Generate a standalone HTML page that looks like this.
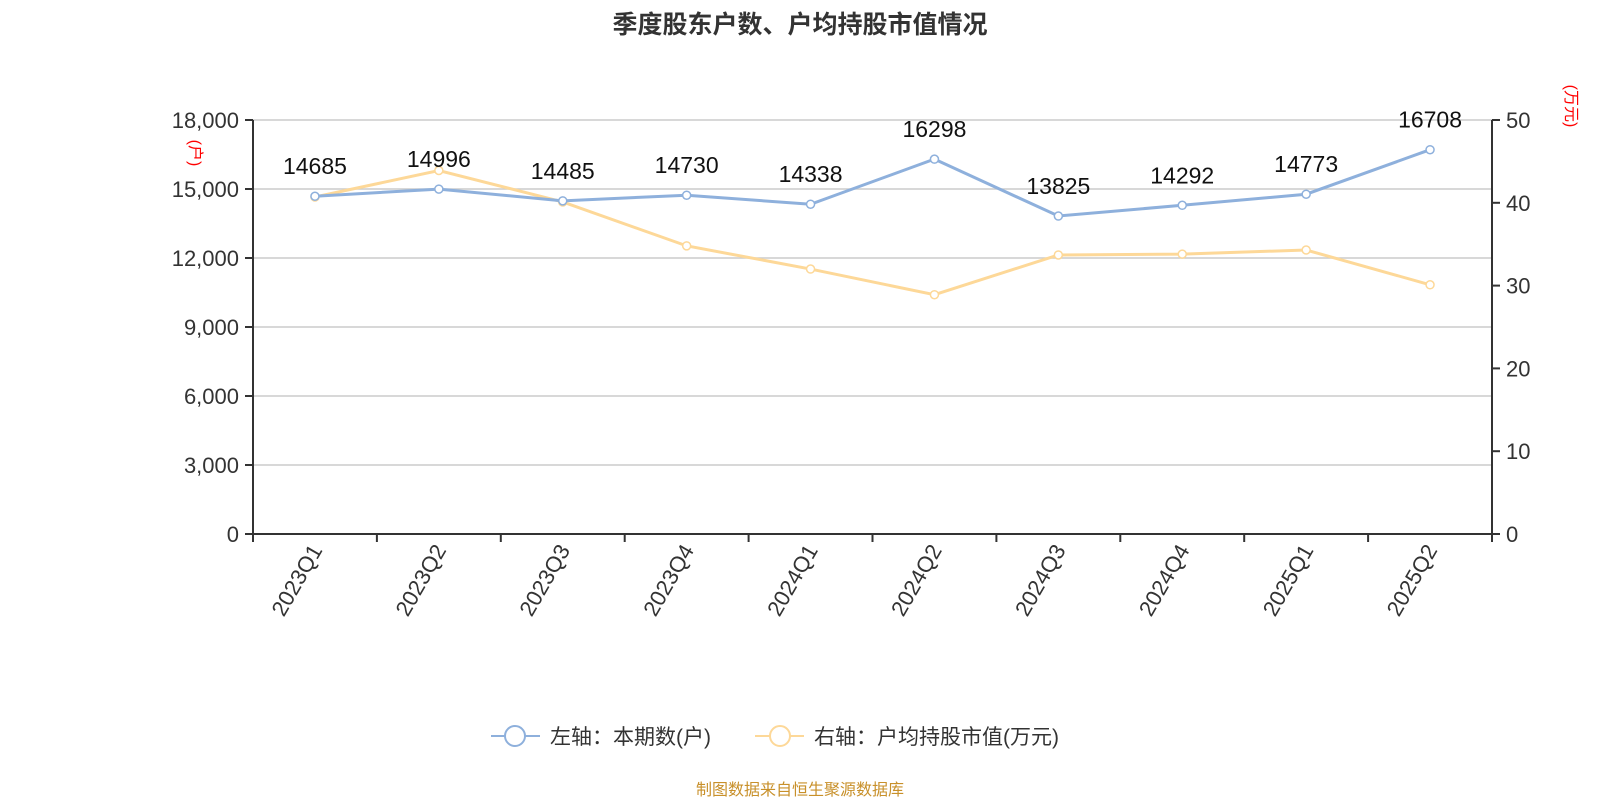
<!DOCTYPE html>
<html><head><meta charset="utf-8"><style>
body{margin:0;background:#fff;font-family:"Liberation Sans","Noto Sans CJK SC",sans-serif;}
</style></head><body>
<svg id="c" width="1600" height="800" xmlns="http://www.w3.org/2000/svg" font-family="Liberation Sans, Noto Sans CJK SC, sans-serif">
<text x="800" y="33" text-anchor="middle" font-size="25" font-weight="bold" fill="#333">季度股东户数、户均持股市值情况</text>
<g id="grid"></g><g id="axes"></g><g id="series"></g>
<text transform="translate(190,153) rotate(90)" text-anchor="middle" font-size="16" fill="#f00">(户)</text>
<text transform="translate(1566,106) rotate(90)" text-anchor="middle" font-size="16" fill="#f00">(万元)</text>
<g>
<g><line x1="491" y1="736" x2="540" y2="736" stroke="#8eb0dc" stroke-width="2"/><circle cx="515" cy="736" r="10" fill="#fff" stroke="#8eb0dc" stroke-width="2"/><text x="550" y="744" font-size="21" fill="#333">左轴：本期数(户)</text></g>
<g><line x1="755" y1="736" x2="804" y2="736" stroke="#fdd898" stroke-width="2"/><circle cx="780" cy="736" r="10" fill="#fff" stroke="#fdd898" stroke-width="2"/><text x="814" y="744" font-size="21" fill="#333">右轴：户均持股市值(万元)</text></g>
</g>
<text x="800" y="795" text-anchor="middle" font-size="16" fill="#c8902a">制图数据来自恒生聚源数据库</text>
</svg>
<script>
const categories=["2023Q1","2023Q2","2023Q3","2023Q4","2024Q1","2024Q2","2024Q3","2024Q4","2025Q1","2025Q2"];
const holders=[14685,14996,14485,14730,14338,16298,13825,14292,14773,16708];
const avgValue=[40.7,43.9,40.1,34.8,32.0,28.9,33.7,33.8,34.3,30.1];
const leftTicks=[0,3000,6000,9000,12000,15000,18000];
const rightTicks=[0,10,20,30,40,50];
const NS="http://www.w3.org/2000/svg";
const X0=253,X1=1492,Y0=534,Y1=120;
const bw=(X1-X0)/categories.length;
const xc=i=>X0+bw*(i+0.5);
const yl=v=>Y0-(v/18000)*(Y0-Y1);
const yr=v=>Y0-(v/50)*(Y0-Y1);
function mk(t,a,p){const e=document.createElementNS(NS,t);for(const k in a)e.setAttribute(k,a[k]);p.appendChild(e);return e;}
const grid=document.getElementById('grid'),axes=document.getElementById('axes'),ser=document.getElementById('series');
leftTicks.forEach(v=>{
 if(v>0){const g=mk('line',{x1:X0,x2:X1,y1:yl(v),y2:yl(v),stroke:'#ccc','stroke-width':1.5},grid);
 
 }
 mk('line',{x1:X0-8,x2:X0,y1:yl(v),y2:yl(v),stroke:'#333','stroke-width':2},axes);
 const t=mk('text',{x:X0-14,y:yl(v)+8,'text-anchor':'end','font-size':22,fill:'#333'},axes);t.textContent=v.toLocaleString('en-US');
 
 
});
rightTicks.forEach(v=>{
 mk('line',{x1:X1,x2:X1+8,y1:yr(v),y2:yr(v),stroke:'#333','stroke-width':2},axes);
 const t=mk('text',{x:X1+14,y:yr(v)+8,'font-size':22,fill:'#333'},axes);t.textContent=v;
 
 
});
mk('line',{x1:X0,x2:X0,y1:Y1,y2:Y0,stroke:'#333','stroke-width':2},axes);
mk('line',{x1:X1,x2:X1,y1:Y1,y2:Y0,stroke:'#333','stroke-width':2},axes);
mk('line',{x1:X0,x2:X1,y1:Y0,y2:Y0,stroke:'#333','stroke-width':2},axes);
for(let i=0;i<=categories.length;i++)mk('line',{x1:X0+bw*i,x2:X0+bw*i,y1:Y0,y2:Y0+8,stroke:'#333','stroke-width':2},axes);
categories.forEach((c,i)=>{
 const t=mk('text',{transform:`translate(${xc(i)+8},${Y0+16}) rotate(-60)`,'text-anchor':'end','font-size':22,fill:'#333'},axes);t.textContent=c;
 
 
});
function line(vals,fy,color,name){
 const p=mk('polyline',{points:vals.map((v,i)=>xc(i)+','+fy(v)).join(' '),fill:'none',stroke:color,'stroke-width':3},ser);
 
 
 vals.forEach((v,i)=>{const c=mk('circle',{cx:xc(i),cy:fy(v),r:4,fill:'#fff',stroke:color,'stroke-width':1.5},ser);
 
 });
}
line(avgValue,yr,'#fdd898','avg-value');
line(holders,yl,'#8eb0dc','holders');
holders.forEach((v,i)=>{const t=mk('text',{x:xc(i),y:yl(v)-22,'text-anchor':'middle','font-size':23,fill:'#111'},ser);t.textContent=v;
 
 });
</script>
</body></html>
